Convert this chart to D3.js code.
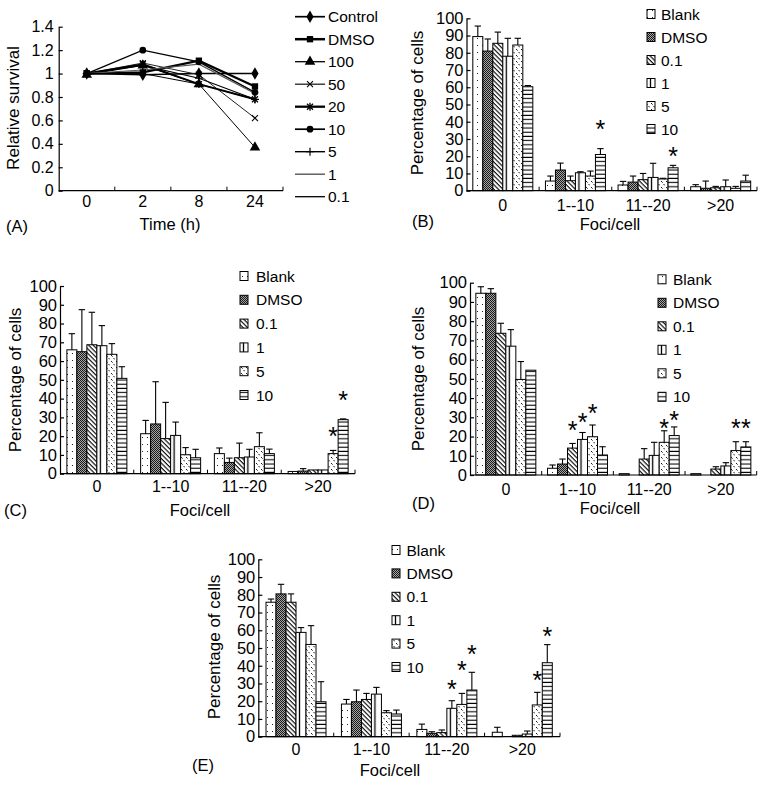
<!DOCTYPE html>
<html><head><meta charset="utf-8">
<script src="https://cdn.jsdelivr.net/npm/d3@7"></script>
<style>
body{margin:0;background:#fff}
svg{display:block}
text{font-family:"Liberation Sans",Arial,Helvetica,sans-serif;fill:#000}
</style>
</head><body>
<svg id="chart" width="768" height="785"></svg>
<script>
// ---------- Panel A data ----------
const times = ["0", "2", "8", "24"];
const survivalNames = ["Control", "DMSO", "100", "50", "20", "10", "5", "1", "0.1"];
const survControl = [1.00, 0.99, 1.00, 1.00];
const survDMSO    = [1.00, 1.01, 1.11, 0.89];
const surv100     = [0.99, 1.07, 0.91, 0.37];
const surv50      = [1.00, 1.09, 0.99, 0.62];
const surv20      = [1.00, 1.08, 0.91, 0.78];
const surv10      = [1.00, 1.20, 1.10, 0.84];
const surv5       = [1.00, 1.07, 0.96, 0.78];
const surv1       = [1.00, 1.03, 1.08, 0.83];
const surv01      = [1.00, 1.00, 0.91, 0.78];
const survivalTicks = [0, 0.2, 0.4, 0.6, 0.8, 1, 1.2, 1.4];

// ---------- Bar panels data ----------
const fociCategories = ["0", "1--10", "11--20", ">20"];
const groupNames = ["Blank", "DMSO", "0.1", "1", "5", "10"];
const percentTicks = [0, 10, 20, 30, 40, 50, 60, 70, 80, 90, 100];

// values[series][category], errTop = upper end of error bar (null = none)
const bValues = [
  [89.4, 5.6, 3.3, 2.3],
  [81.0, 12.0, 5.0, 1.4],
  [85.5, 5.8, 6.4, 1.7],
  [78.0, 10.4, 7.7, 2.3],
  [84.5, 8.5, 6.8, 1.4],
  [60.3, 21.0, 13.3, 5.6]
];
const bErrTop = [
  [95.5, 8.5, 5.4, 3.5],
  [88.0, 16.0, 8.5, 5.6],
  [92.0, 8.5, 10.0, 2.5],
  [88.4, 11.0, 15.9, 6.2],
  [88.4, 11.4, 7.2, 2.5],
  [61.0, 24.4, 14.7, 9.0]
];
const bStars = [[1, 5, 38.5], [2, 5, 23]];

const cValues = [
  [66.0, 21.3, 10.7, 1.2],
  [65.0, 26.5, 6.0, 1.4],
  [68.7, 18.7, 8.5, 2.0],
  [68.2, 20.4, 8.9, 2.0],
  [63.6, 10.1, 14.4, 10.7],
  [50.8, 8.5, 10.7, 28.8]
];
const cErrTop = [
  [74.6, 28.4, 13.7, null],
  [87.4, 49.0, 8.3, 2.7],
  [86.0, 38.0, 16.3, null],
  [78.9, 27.5, 13.0, null],
  [69.3, 13.9, 21.8, 12.4],
  [57.0, 13.0, 13.1, 29.2]
];
const cStars = [[3, 4, 22.7], [3, 5, 41.7]];

const dValues = [
  [94.5, 3.5, 0.7, 0.7],
  [94.5, 5.7, 0, 0],
  [73.7, 14.0, 8.3, 3.1],
  [67.0, 18.5, 10.2, 4.7],
  [49.7, 19.9, 17.0, 12.7],
  [54.5, 10.4, 20.5, 14.6]
];
const dErrTop = [
  [97.9, 5.2, null, null],
  [96.9, 8.3, null, null],
  [78.9, 16.4, 13.7, 4.3],
  [75.6, 22.1, 17.0, 6.4],
  [59.0, 26.0, 23.0, 17.3],
  [null, 14.7, 25.0, 17.3]
];
const dStars = [[1, 2, 26], [1, 3, 30.4], [1, 4, 35], [2, 4, 26.9], [2, 5, 31.4], [3, 4, 27], [3, 5, 27]];

const eValues = [
  [75.8, 18.4, 4.1, 2.5],
  [80.5, 19.7, 1.9, 0],
  [75.8, 21.0, 2.3, 0.8],
  [58.8, 24.0, 16.0, 1.5],
  [52.0, 13.5, 18.2, 17.9],
  [19.7, 12.8, 26.3, 41.7]
];
const eErrTop = [
  [77.6, 21.0, 7.1, 5.3],
  [85.9, 26.3, 2.8, null],
  [80.5, 24.4, 3.8, null],
  [61.5, 27.8, 20.3, 3.2],
  [62.6, 14.7, 24.4, 25.0],
  [31.0, 15.0, 36.3, 51.9]
];
const eStars = [[2, 3, 29.7], [2, 4, 40.2], [2, 5, 49.4], [3, 4, 34.6], [3, 5, 59.8]];

// ---------- drawing ----------
const svg = d3.select("#chart");
const defs = svg.append("defs");

(function makePatterns() {
  let p = defs.append("pattern").attr("id", "pBlank").attr("patternUnits", "userSpaceOnUse").attr("width", 5).attr("height", 7);
  p.append("rect").attr("width", 5).attr("height", 7).attr("fill", "#fff");
  p.append("rect").attr("x", 2).attr("y", 3).attr("width", 1).attr("height", 1).attr("fill", "#222");

  p = defs.append("pattern").attr("id", "pDMSO").attr("patternUnits", "userSpaceOnUse").attr("width", 2).attr("height", 2);
  p.append("rect").attr("width", 2).attr("height", 2).attr("fill", "#a5a5a5");
  p.append("rect").attr("width", 1).attr("height", 1).attr("fill", "#1a1a1a");
  p.append("rect").attr("x", 1).attr("y", 1).attr("width", 1).attr("height", 1).attr("fill", "#1a1a1a");

  p = defs.append("pattern").attr("id", "p01").attr("patternUnits", "userSpaceOnUse").attr("width", 3.2).attr("height", 3.2).attr("patternTransform", "rotate(-45)");
  p.append("rect").attr("width", 3.2).attr("height", 3.2).attr("fill", "#fff");
  p.append("line").attr("x1", 1).attr("x2", 1).attr("y1", 0).attr("y2", 3.2).attr("stroke", "#000").attr("stroke-width", 1.1);

  p = defs.append("pattern").attr("id", "p1").attr("patternUnits", "objectBoundingBox").attr("width", 1).attr("height", 1);
  p.append("rect").attr("width", 40).attr("height", 1000).attr("fill", "#fff");
  p.append("line").attr("x1", 3.5).attr("x2", 3.5).attr("y1", 0).attr("y2", 1000).attr("stroke", "#000").attr("stroke-width", 1.3);

  p = defs.append("pattern").attr("id", "p5").attr("patternUnits", "userSpaceOnUse").attr("width", 5).attr("height", 6);
  p.append("rect").attr("width", 5).attr("height", 6).attr("fill", "#fff");
  p.append("line").attr("x1", 1).attr("y1", 1).attr("x2", 2.6).attr("y2", 2.6).attr("stroke", "#000").attr("stroke-width", 0.9);
  p.append("line").attr("x1", 3.5).attr("y1", 4).attr("x2", 5).attr("y2", 5.5).attr("stroke", "#000").attr("stroke-width", 0.9);

  p = defs.append("pattern").attr("id", "p10").attr("patternUnits", "userSpaceOnUse").attr("width", 4).attr("height", 4.2);
  p.append("rect").attr("width", 4).attr("height", 4.2).attr("fill", "#fff");
  p.append("line").attr("x1", 0).attr("x2", 4).attr("y1", 2).attr("y2", 2).attr("stroke", "#000").attr("stroke-width", 1.1);
})();
const patternIds = ["pBlank", "pDMSO", "p01", "p1", "p5", "p10"];

function text(g, x, y, s, size, anchor) {
  return g.append("text").attr("x", x).attr("y", y).attr("font-size", size)
    .attr("text-anchor", anchor || "start").text(s);
}

// ---------- Panel A ----------
(function panelA() {
  const g = svg.append("g");
  const x0 = 58.7, x1 = 283, y0 = 190.7, yTop = 26.7;
  const x = d3.scaleBand().domain(times).range([x0, x1]);
  const y = d3.scaleLinear().domain([0, 1.4]).range([y0, yTop]);
  const yAxis = g.append("g").attr("transform", `translate(${x0},0)`)
    .call(d3.axisLeft(y).tickValues(survivalTicks).tickSizeInner(-4).tickSizeOuter(0).tickPadding(5)
      .tickFormat(d => String(Math.round(d * 10) / 10)));
  yAxis.selectAll("text").attr("font-size", 16).attr("font-family", null);
  yAxis.selectAll("path,line").attr("stroke", "#000").attr("stroke-width", 1.2);
  g.append("line").attr("x1", x0).attr("x2", x1).attr("y1", y0).attr("y2", y0).attr("stroke", "#000").attr("stroke-width", 1.2);
  times.forEach((t, i) => {
    const bx = x(t) + x.bandwidth();
    g.append("line").attr("x1", bx).attr("x2", bx).attr("y1", y0).attr("y2", y0 - 4).attr("stroke", "#000");
    text(g, x(t) + x.bandwidth() / 2, y0 + 16.5, t, 16, "middle");
  });
  text(g, 170, 230, "Time (h)", 16.5, "middle");
  text(g, 6, 231.5, "(A)", 16.5);
  g.append("text").attr("transform", "translate(19,108) rotate(-90)").attr("font-size", 17)
    .attr("text-anchor", "middle").text("Relative survival");

  const series = [survControl, survDMSO, surv100, surv50, surv20, surv10, surv5, surv1, surv01];
  const widths = [1.4, 2.2, 1.0, 1.0, 2.0, 1.4, 1.1, 1.1, 1.0];
  const colors = ["#000", "#000", "#000", "#222", "#000", "#000", "#000", "#555", "#000"];
  const markers = ["diamond", "square", "triangle", "x", "asterisk", "circle", "plus", null, null];
  function drawMarker(sel, type, cx, cy) {
    const m = sel.append("g").attr("transform", `translate(${cx},${cy})`);
    if (type === "diamond") m.append("path").attr("d", d3.symbol(d3.symbolDiamond, 45)()).attr("fill", "#000");
    else if (type === "square") m.append("path").attr("d", d3.symbol(d3.symbolSquare, 40)()).attr("fill", "#000");
    else if (type === "triangle") m.append("path").attr("d", d3.symbol(d3.symbolTriangle, 48)()).attr("fill", "#000");
    else if (type === "circle") m.append("path").attr("d", d3.symbol(d3.symbolCircle, 36)()).attr("fill", "#000");
    else if (type === "x") m.append("path").attr("d", "M-3,-3L3,3M-3,3L3,-3").attr("stroke", "#000").attr("stroke-width", 1.1).attr("fill", "none");
    else if (type === "plus") m.append("path").attr("d", "M-4,0L4,0M0,-4L0,4").attr("stroke", "#000").attr("stroke-width", 1.2).attr("fill", "none");
    else if (type === "asterisk") m.append("path").attr("d", "M-3,-3L3,3M-3,3L3,-3M0,-4L0,4").attr("stroke", "#000").attr("stroke-width", 1.3).attr("fill", "none");
  }
  const line = d3.line().x((d, i) => x(times[i]) + x.bandwidth() / 2).y(d => y(d));
  series.forEach((s, i) => {
    g.append("path").attr("d", line(s)).attr("fill", "none").attr("stroke", colors[i]).attr("stroke-width", widths[i]);
  });
  series.forEach((s, i) => {
    if (!markers[i]) return;
    s.forEach((v, j) => drawMarker(g, markers[i], x(times[j]) + x.bandwidth() / 2, y(v)));
  });
  survivalNames.forEach((n, i) => {
    const ry = 16.7 + i * 22.5;
    g.append("line").attr("x1", 295).attr("x2", 325).attr("y1", ry).attr("y2", ry).attr("stroke", colors[i]).attr("stroke-width", widths[i] + 0.3);
    if (markers[i]) drawMarker(g, markers[i], 310, ry);
    text(g, 328, ry + 5.5, n, 15.5);
  });
})();

// ---------- Bar panels ----------
function barPanel(cfg, values, errTop, stars) {
  const g = svg.append("g");
  const x = d3.scaleBand().domain(fociCategories).range([cfg.x0, cfg.x1]);
  const inner = d3.scaleBand().domain(groupNames).range([0, 60]);
  const off = (x.bandwidth() - 60) / 2 + (cfg.shift || 0);
  const y = d3.scaleLinear().domain([0, 100]).range([cfg.y0, cfg.yTop]);
  const bw = inner.bandwidth();

  groupNames.forEach((s, si) => {
    fociCategories.forEach((c, ci) => {
      const v = values[si][ci];
      if (!(v > 0)) return;
      const bx = x(c) + off + inner(s);
      g.append("rect").attr("x", bx).attr("y", y(v)).attr("width", bw).attr("height", y(0) - y(v))
        .attr("fill", `url(#${patternIds[si]})`).attr("stroke", "#000").attr("stroke-width", 1);
    });
  });
  groupNames.forEach((s, si) => {
    fociCategories.forEach((c, ci) => {
      const v = values[si][ci], e = errTop[si][ci];
      if (e == null) return;
      const cx = x(c) + off + inner(s) + bw / 2;
      g.append("line").attr("x1", cx).attr("x2", cx).attr("y1", y(v)).attr("y2", y(e)).attr("stroke", "#000").attr("stroke-width", 1.1);
      g.append("line").attr("x1", cx - 3.2).attr("x2", cx + 3.2).attr("y1", y(e)).attr("y2", y(e)).attr("stroke", "#000").attr("stroke-width", 1.1);
    });
  });
  stars.forEach(([ci, si, v]) => {
    const cx = x(fociCategories[ci]) + off + inner(groupNames[si]) + bw / 2;
    text(g, cx, y(v) + 14, "*", 25, "middle");
  });

  const yAxis = g.append("g").attr("transform", `translate(${cfg.x0},0)`)
    .call(d3.axisLeft(y).tickValues(percentTicks).tickSizeInner(-4).tickSizeOuter(0).tickPadding(3).tickFormat(d3.format("d")));
  yAxis.selectAll("text").attr("font-size", 16.5).attr("font-family", null);
  yAxis.selectAll("path,line").attr("stroke", "#000").attr("stroke-width", 1.2);
  g.append("line").attr("x1", cfg.x0).attr("x2", cfg.x1).attr("y1", cfg.y0).attr("y2", cfg.y0).attr("stroke", "#000").attr("stroke-width", 1.2);
  fociCategories.forEach(c => {
    const bx = x(c) + x.bandwidth();
    g.append("line").attr("x1", bx).attr("x2", bx).attr("y1", cfg.y0).attr("y2", cfg.y0 - 4).attr("stroke", "#000");
    text(g, x(c) + x.bandwidth() / 2, cfg.y0 + cfg.tickDy, c, 16, "middle");
  });
  text(g, cfg.titleX, cfg.titleY, "Foci/cell", 16.5, "middle");
  text(g, cfg.labX, cfg.labY, cfg.label, 16.5);
  g.append("text").attr("transform", `translate(${cfg.yTitleX},${cfg.yTitleY}) rotate(-90)`)
    .attr("font-size", 17).attr("text-anchor", "middle").text("Percentage of cells");

  groupNames.forEach((n, i) => {
    const ry = cfg.legY + i * cfg.legStep;
    g.append("rect").attr("x", cfg.legSX - 4).attr("y", ry - 4.5).attr("width", 8).attr("height", 9)
      .attr("fill", `url(#${patternIds[i]})`).attr("stroke", "#000").attr("stroke-width", 1);
    text(g, cfg.legTX, ry + 5.5, n, 15.5);
  });
}

barPanel({x0: 466.5, x1: 757, y0: 190.7, yTop: 18.3, tickDy: 20, titleX: 610, titleY: 230,
  labX: 412, labY: 226.5, label: "(B)", yTitleX: 422.5, yTitleY: 103,
  legSX: 651, legTX: 661, legY: 14, legStep: 23}, bValues, bErrTop, bStars);

barPanel({x0: 60, x1: 355, y0: 473.7, yTop: 286, tickDy: 18, titleX: 200, titleY: 516,
  labX: 4, labY: 516, label: "(C)", yTitleX: 20.5, yTitleY: 380,
  legSX: 244, legTX: 256, legY: 276, legStep: 23.8}, cValues, cErrTop, cStars);

barPanel({x0: 470, x1: 756.7, y0: 475, yTop: 282.7, tickDy: 20, titleX: 610, titleY: 514,
  labX: 412, labY: 508.5, label: "(D)", yTitleX: 424, yTitleY: 379,
  legSX: 662, legTX: 673, legY: 279.3, legStep: 23.5}, dValues, dErrTop, dStars);

barPanel({x0: 258.3, x1: 560, y0: 736.7, yTop: 559.3, tickDy: 18.5, titleX: 390, titleY: 776,
  labX: 192, labY: 770.5, label: "(E)", yTitleX: 219.5, yTitleY: 647,
  legSX: 396, legTX: 406.5, legY: 550, legStep: 23.4}, eValues, eErrTop, eStars);
</script>
</body></html>
